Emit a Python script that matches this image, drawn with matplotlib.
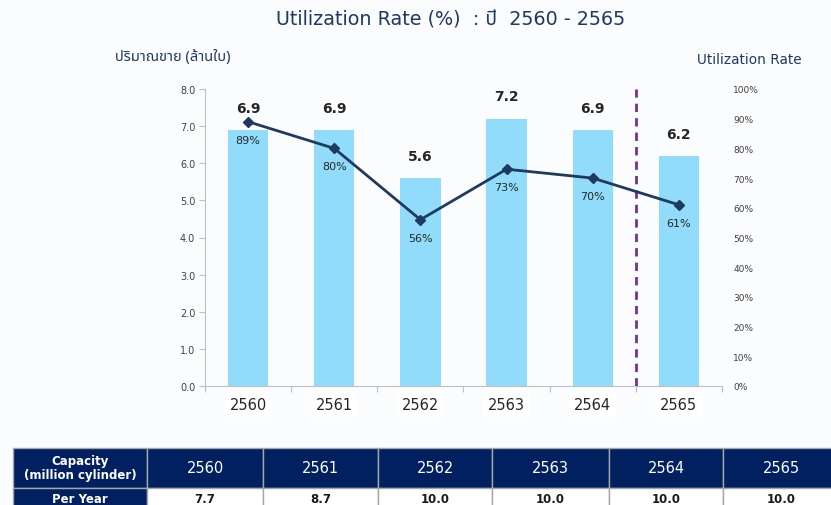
import matplotlib
matplotlib.use("Agg")
import matplotlib.pyplot as plt
from matplotlib.patches import Rectangle

# data
years = ["2560", "2561", "2562", "2563", "2564", "2565"]
sales = [6.9, 6.9, 5.6, 7.2, 6.9, 6.2]            # million cylinders
utilization = [89, 80, 56, 73, 70, 61]            # percent
capacity = [7.7, 8.7, 10.0, 10.0, 10.0, 10.0]     # million cylinders per year

NAVY = "#1f3864"
LINE = "#1f3a5f"
BAR = "#92dcfb"
HEADER = "#002060"
FONTS = ["DejaVu Sans", "Noto Sans Thai", "Noto Sans"]

plt.rcParams["font.family"] = FONTS

W, H = 831, 506
fig = plt.figure(figsize=(W / 100, H / 100), dpi=100, facecolor="#fbfcfe")


def fx(px):
    return px / W


def fy(py):
    return 1 - py / H


# main chart
ax = fig.add_axes([fx(205), fy(387), fx(722) - fx(205), fy(90) - fy(387)])
ax.set_facecolor("none")
x = list(range(len(years)))
ax.bar(x, sales, width=0.47, color=BAR, zorder=2)
ax.set_xlim(-0.5, len(years) - 0.5)
ax.set_ylim(0, 8)
ax.set_yticks([i for i in range(9)])
ax.set_yticklabels([f"{i:.1f}" for i in range(9)], fontsize=7, color="#404040")
ax.set_xticks([i + 0.5 for i in range(-1, len(years))])
ax.set_xticklabels([])
ax.tick_params(axis="x", length=4, color="#bfbfbf", direction="out")
ax.tick_params(axis="y", length=4, color="#bfbfbf", direction="out", pad=3)
for side in ("top", "right"):
    ax.spines[side].set_visible(False)
for side in ("left", "bottom"):
    ax.spines[side].set_color("#bfbfbf")

for i, (yr, v) in enumerate(zip(years, sales)):
    ax.annotate(f"{v:.1f}", (i, v), xytext=(0, 11), textcoords="offset points",
                ha="center", va="bottom", fontsize=10, fontweight="bold", color="#262626")
    ax.annotate(yr, (i, 0), xytext=(0, -13), textcoords="offset points",
                ha="center", va="center", fontsize=10.5, color="#262626",
                bbox=dict(boxstyle="square,pad=0.35", fc="white", ec="none"))

ax.axvline(4.5, color="#7030a0", lw=2, ls=(0, (3, 2.2)), zorder=3)

ax2 = ax.twinx()
ax2.set_ylim(0, 100)
ax2.set_yticks(range(0, 101, 10))
ax2.set_yticklabels([f"{v}%" for v in range(0, 101, 10)], fontsize=6.5, color="#404040")
ax2.tick_params(axis="y", length=0, pad=8)
for side in ax2.spines:
    ax2.spines[side].set_visible(False)
ax2.plot(x, utilization, color=LINE, lw=2, marker="D", ms=5, zorder=4)
for i, u in enumerate(utilization):
    ax2.annotate(f"{u}%", (i, u), xytext=(0, -13), textcoords="offset points",
                 ha="center", va="center", fontsize=8, color="#262626")

# titles
fig.text(fx(451), fy(20), "Utilization Rate (%)  : ปี  2560 - 2565", ha="center", va="center",
         fontsize=13.8, color=NAVY)
fig.text(fx(115), fy(58), "ปริมาณขาย (ล้านใบ)", ha="left", va="center",
         fontsize=10.5, fontweight="bold", color=NAVY,
         family=["Noto Sans Thai", "DejaVu Sans"])
fig.text(fx(802), fy(60), "Utilization Rate", ha="right", va="center",
         fontsize=9.8, color=NAVY)

# capacity table drawn in pixel space
tab = fig.add_axes([0, 0, 1, 1])
tab.set_xlim(0, W)
tab.set_ylim(H, 0)
tab.axis("off")
edges = [13, 147, 263, 378, 492, 609, 723, 840]
row1, row2, row3 = 449, 489, 512
for c in range(len(edges) - 1):
    x0, x1 = edges[c], edges[c + 1]
    tab.add_patch(Rectangle((x0, row1), x1 - x0, row2 - row1, fc=HEADER, ec="#a6a6a6", lw=1))
    tab.add_patch(Rectangle((x0, row2), x1 - x0, row3 - row2,
                            fc=HEADER if c == 0 else "white", ec="#a6a6a6", lw=1))
    cx = (x0 + x1) / 2
    if c == 0:
        tab.text(cx, (row1 + row2) / 2, "Capacity\n(million cylinder)", ha="center", va="center",
                 fontsize=8.5, fontweight="bold", color="white", linespacing=1.1)
        tab.text(cx, 500, "Per Year", ha="center", va="center",
                 fontsize=8.5, fontweight="bold", color="white")
    else:
        tab.text(cx, (row1 + row2) / 2, years[c - 1], ha="center", va="center",
                 fontsize=10.5, color="white")
        tab.text(cx, 500, f"{capacity[c - 1]:.1f}", ha="center", va="center",
                 fontsize=8.5, fontweight="bold", color="#1a1a1a")

fig.savefig("out.png", dpi=100, facecolor=fig.get_facecolor())
